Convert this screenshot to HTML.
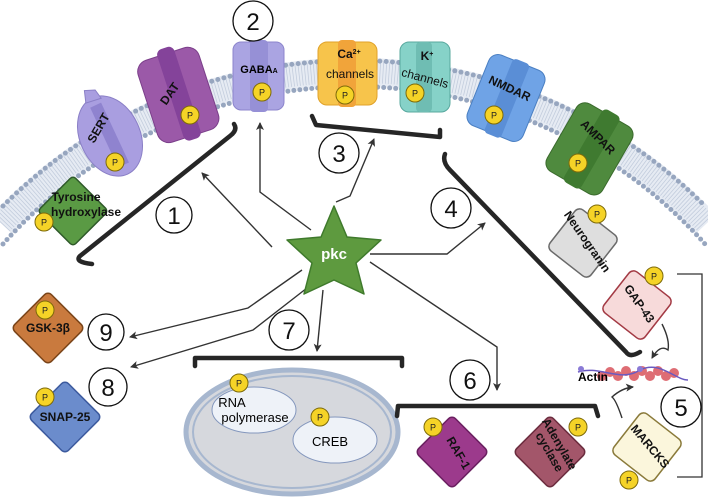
<!DOCTYPE html>
<html><head><meta charset="utf-8"><style>
html,body{margin:0;padding:0;background:#fff;width:708px;height:498px;overflow:hidden;}
svg{display:block;font-family:"Liberation Sans",sans-serif;}
.num{fill:#fff;stroke:#111;stroke-width:1.3}
.nt{font-size:24px;text-anchor:middle;fill:#111}
.br{fill:none;stroke:#262626;stroke-width:4.5;stroke-linecap:round;stroke-linejoin:round}
.ar{fill:none;stroke:#333;stroke-width:1.4}
.pc{fill:#f5d327;stroke:#7d6a0a;stroke-width:1}
.pt{font-size:9px;text-anchor:middle;fill:#222}
.lb{font-size:12px;font-weight:bold;fill:#111;text-anchor:middle}
</style></head><body>
<svg width="708" height="498" viewBox="0 0 708 498" xmlns="http://www.w3.org/2000/svg">
<defs>
<marker id="ah" markerWidth="8" markerHeight="8" refX="7" refY="4" orient="auto" markerUnits="userSpaceOnUse"><path d="M0,0 L8,4 L0,8 L2,4z" fill="#333"/></marker>
<g id="P"><circle r="9" class="pc"/><text y="3.5" class="pt">P</text></g>
</defs>
<path d="M2,224 A483 483 0 0 1 706,224" fill="none" stroke="#e6ebf3" stroke-width="28"/>
<path d="M2,224 A483 483 0 0 1 706,224" fill="none" stroke="#c3cddd" stroke-width="22" stroke-dasharray="0.8 2.2"/>
<path d="M3,206 A496 496 0 0 1 705,206" fill="none" stroke="#97a6bf" stroke-width="5" stroke-linecap="round" stroke-dasharray="0 6.3"/>
<path d="M3,244 A470 470 0 0 1 705,244" fill="none" stroke="#97a6bf" stroke-width="5" stroke-linecap="round" stroke-dasharray="0 6"/>

<g transform="translate(110,136) rotate(-25)">
<ellipse cx="0" cy="0" rx="30" ry="42" fill="#a99ee0" stroke="#8a7fc6"/>
<path d="M-8,-40 L-4,-52 L6,-48 L8,-38z" fill="#a99ee0" stroke="#8a7fc6"/>
<rect x="-6" y="-34" width="12" height="66" fill="#8f83cf"/>
</g>
<text class="lb" transform="translate(102,130) rotate(-60)">SERT</text>
<use href="#P" x="115" y="162"/>
<g transform="translate(178,94) rotate(-18)">
<rect x="-32" y="-42" width="64" height="86" rx="12" fill="#9b59a8" stroke="#7b3f8a"/>
<rect x="-8" y="-48" width="18" height="96" rx="6" fill="#84439a"/>
</g>
<text class="lb" transform="translate(173,96) rotate(-55)">DAT</text>
<use href="#P" x="190" y="115"/>
<rect x="233" y="42" width="51" height="68" rx="8" fill="#aaa4e2" stroke="#8c85cc"/>
<rect x="250" y="40" width="18" height="72" rx="4" fill="#9690d6"/>
<text x="259" y="73" style="font-size:11px;font-weight:bold" text-anchor="middle">GABA<tspan style="font-size:7px">A</tspan></text>
<use href="#P" x="262" y="92"/>
<rect x="318" y="42" width="59" height="63" rx="9" fill="#f7c44b" stroke="#e0a22a"/>
<rect x="338" y="40" width="18" height="67" rx="4" fill="#f1a43a"/>
<text x="349" y="58" class="lb">Ca<tspan style="font-size:7px" dy="-4">2+</tspan></text>
<text x="350" y="78" class="lb" style="font-weight:normal">channels</text>
<use href="#P" x="345" y="95"/>
<rect x="400" y="42" width="50" height="70" rx="9" fill="#86d2c8" stroke="#58a89e"/>
<rect x="416" y="42" width="16" height="70" rx="4" fill="#6fbdb3"/>
<text x="427" y="60" class="lb">K<tspan style="font-size:7px" dy="-4">+</tspan></text>
<text class="lb" transform="translate(424,82) rotate(15)" style="font-weight:normal">channels</text>
<use href="#P" x="415" y="93"/>
<g transform="translate(506,98) rotate(22)">
<rect x="-30" y="-38" width="60" height="76" rx="10" fill="#6fa3e6" stroke="#4a7fc2"/>
<rect x="-8" y="-40" width="18" height="80" rx="4" fill="#5a8ed6"/>
</g>
<text class="lb" transform="translate(508,92) rotate(25)">NMDAR</text>
<use href="#P" x="494" y="115"/>
<g transform="translate(590,148) rotate(30)">
<rect x="-32" y="-38" width="64" height="78" rx="10" fill="#4f8a3e" stroke="#3a6a2c"/>
<rect x="-8" y="-42" width="20" height="84" rx="5" fill="#3f7a30"/>
</g>
<text class="lb" transform="translate(595,140) rotate(45)">AMPAR</text>
<use href="#P" x="578" y="163"/>
<rect x="48" y="186" width="50" height="50" rx="4" transform="rotate(45 73 211)" fill="#5a9a44" stroke="#2f5a2a" stroke-width="1.5"/>
<text x="76" y="201" class="lb">Tyrosine</text>
<text x="86" y="216" class="lb">hydroxylase</text>
<use href="#P" x="44" y="222"/>
<rect x="557" y="217" width="52" height="52" rx="6" transform="rotate(38 583 243)" fill="#dedede" stroke="#6a6a6a" stroke-width="1.5"/>
<text class="lb" transform="translate(584,244) rotate(55)">Neurogranin</text>
<use href="#P" x="597" y="214"/>
<rect x="611" y="279" width="52" height="52" rx="6" transform="rotate(38 637 305)" fill="#f7dada" stroke="#a33a44" stroke-width="1.5"/>
<text class="lb" transform="translate(636,306) rotate(55)">GAP-43</text>
<use href="#P" x="654" y="276"/>
<rect x="621" y="421" width="52" height="52" rx="6" transform="rotate(38 647 447)" fill="#fbf6dc" stroke="#8a7a3a" stroke-width="1.5"/>
<text class="lb" transform="translate(647,449) rotate(50)">MARCKS</text>
<use href="#P" x="629" y="480"/>
<g>
<g fill="#d9545c" opacity="0.85">
<circle cx="610" cy="372" r="5"/><circle cx="618" cy="376" r="5"/><circle cx="626" cy="371" r="5"/><circle cx="634" cy="376" r="5"/><circle cx="642" cy="371" r="5"/><circle cx="650" cy="376" r="5"/><circle cx="658" cy="371" r="5"/><circle cx="666" cy="376" r="5"/><circle cx="674" cy="373" r="5"/><circle cx="602" cy="376" r="5"/>
</g>
<path d="M578,372 C600,365 620,383 640,370 C660,360 675,380 688,380" fill="none" stroke="#6a5ac0" stroke-width="1.5"/>
<circle cx="581" cy="369" r="3" fill="#8a7ad6"/><circle cx="640" cy="369" r="3" fill="#8a7ad6"/>
<text x="593" y="381" style="font-size:12px;font-weight:bold" text-anchor="middle">Actin</text>
</g>
<rect x="22" y="302" width="52" height="52" rx="5" transform="rotate(45 48 328)" fill="#c97a3e" stroke="#7a4418" stroke-width="1.5"/>
<text x="48" y="332" class="lb">GSK-3β</text>
<use href="#P" x="45" y="310"/>
<rect x="39" y="391" width="52" height="52" rx="5" transform="rotate(45 65 417)" fill="#6b8ccc" stroke="#3c5a9e" stroke-width="1.5"/>
<text x="65" y="421" class="lb">SNAP-25</text>
<use href="#P" x="45" y="397"/>
<rect x="426" y="426" width="52" height="52" rx="5" transform="rotate(45 452 452)" fill="#9c3a8c" stroke="#6a1f60" stroke-width="1.5"/>
<text class="lb" transform="translate(455,455) rotate(60)">RAF-1</text>
<use href="#P" x="433" y="427"/>
<rect x="524" y="426" width="52" height="52" rx="5" transform="rotate(45 550 452)" fill="#a3566a" stroke="#6b2c3e" stroke-width="1.5"/>
<text class="lb" transform="translate(556,446) rotate(60)">Adenylate</text>
<text class="lb" transform="translate(546,454) rotate(60)">cyclase</text>
<use href="#P" x="578" y="427"/>
<ellipse cx="292" cy="432" rx="106" ry="62" fill="#d6d8dd" stroke="#a7b7cf" stroke-width="5"/>
<ellipse cx="292" cy="432" rx="99" ry="56" fill="none" stroke="#a7b7cf" stroke-width="2"/>
<ellipse cx="254" cy="410" rx="42" ry="23" fill="#eef2f8" stroke="#8497bd"/>
<ellipse cx="335" cy="440" rx="42" ry="23" fill="#eef2f8" stroke="#8497bd"/>
<text x="232" y="407" style="font-size:13px" text-anchor="middle">RNA</text>
<text x="255" y="422" style="font-size:13px" text-anchor="middle">polymerase</text>
<text x="330" y="446" style="font-size:13px" text-anchor="middle">CREB</text>
<use href="#P" x="239" y="383"/>
<use href="#P" x="320" y="417"/>
<path class="br" d="M234,124 Q238,130 230,136 L80,256 Q74,262 92,264"/>
<path class="br" d="M312,116 L316,125 L440,137 L440,130"/>
<path class="br" d="M445,154 Q442,162 450,170 L626,352 Q630,358 640,352"/>
<path class="br" d="M195,366 L195,358 L402,358 L402,366"/>
<path class="br" d="M397,416 L398,406 L595,406 L598,416"/>
<path d="M677,274 L702,274 L702,477 L677,477" fill="none" stroke="#333" stroke-width="1.3"/>
<path class="ar" marker-end="url(#ah)" d="M272,247 L202,173"/>
<path class="ar" marker-end="url(#ah)" d="M311,230 L260,192 L260,123"/>
<path class="ar" marker-end="url(#ah)" d="M336,202 L350,196 L374,139"/>
<path class="ar" marker-end="url(#ah)" d="M370,254 L447,254 L485,223"/>
<path class="ar" marker-end="url(#ah)" d="M370,262 L497,347 L497,390"/>
<path class="ar" marker-end="url(#ah)" d="M323,290 L317,351"/>
<path class="ar" marker-end="url(#ah)" d="M302,270 L248,308 L130,337"/>
<path class="ar" marker-end="url(#ah)" d="M307,288 L253,330 L131,367"/>
<path class="ar" marker-end="url(#ah)" d="M662,324 Q670,340 668,350 Q660,344 652,358"/>
<path class="ar" marker-end="url(#ah)" d="M622,418 Q616,400 612,397 Q622,388 633,387"/>
<path d="M334,206 L347,237 L381,240 L356,263 L364,294 L334,280 L304,294 L312,263 L287,240 L321,237Z" fill="#5e9a3f" stroke="#3f7a2c" stroke-width="1.5" stroke-linejoin="round"/>
<text x="334" y="259" style="font-size:15px;font-weight:bold;fill:#fff" text-anchor="middle">pkc</text>
<circle cx="253" cy="21" r="20" class="num"/><text x="253" y="30" class="nt">2</text>
<circle cx="174" cy="215" r="18" class="num"/><text x="174" y="224" class="nt">1</text>
<circle cx="339" cy="153" r="20" class="num"/><text x="339" y="162" class="nt">3</text>
<circle cx="451" cy="208" r="20" class="num"/><text x="451" y="217" class="nt">4</text>
<circle cx="681" cy="407" r="20" class="num"/><text x="681" y="416" class="nt">5</text>
<circle cx="470" cy="380" r="20" class="num"/><text x="470" y="389" class="nt">6</text>
<circle cx="289" cy="330" r="20" class="num"/><text x="289" y="339" class="nt">7</text>
<circle cx="108" cy="387" r="19" class="num"/><text x="108" y="396" class="nt">8</text>
<circle cx="106" cy="332" r="18" class="num"/><text x="106" y="341" class="nt">9</text>
</svg>
</body></html>
